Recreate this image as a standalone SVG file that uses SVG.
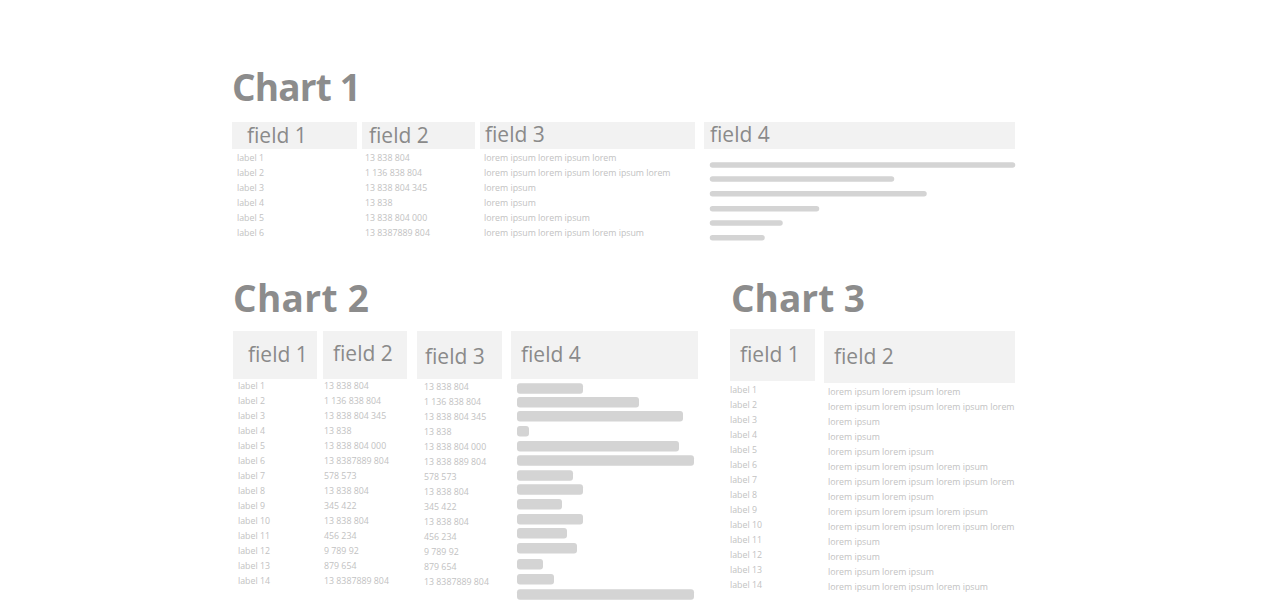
<svg xmlns="http://www.w3.org/2000/svg" width="1269" height="612" viewBox="0 0 1269 612">
<style>
.title{font-family:"Open Sans","Liberation Sans",sans-serif;font-weight:700;font-size:37px;fill:#8c8c8c}
.hdr{fill:#f2f2f2}
.ht{font-family:"Open Sans","Liberation Sans",sans-serif;font-size:21px;fill:#8a8a8a}
.rt{font-family:"Open Sans","Liberation Sans",sans-serif;font-size:8.8px;fill:#c2c2c2}
.ln{stroke:#d4d4d4;stroke-width:5.5;stroke-linecap:round}
.bar{fill:#d4d4d4}
</style>
<rect width="1269" height="612" fill="#ffffff"/>

<g id="chart1">
<text class="title" x="232" y="101" textLength="129">Chart 1</text>
<g id="c1-field1">
<rect class="hdr" x="232" y="122" width="125" height="27"/>
<text class="ht" x="247" y="143">field 1</text>
<text class="rt" x="237" y="161">label 1</text>
<text class="rt" x="237" y="176">label 2</text>
<text class="rt" x="237" y="191">label 3</text>
<text class="rt" x="237" y="206">label 4</text>
<text class="rt" x="237" y="221">label 5</text>
<text class="rt" x="237" y="236">label 6</text>
</g>
<g id="c1-field2">
<rect class="hdr" x="362" y="122" width="113" height="27"/>
<text class="ht" x="369" y="143">field 2</text>
<text class="rt" x="365" y="161">13 838 804</text>
<text class="rt" x="365" y="176">1 136 838 804</text>
<text class="rt" x="365" y="191">13 838 804 345</text>
<text class="rt" x="365" y="206">13 838</text>
<text class="rt" x="365" y="221">13 838 804 000</text>
<text class="rt" x="365" y="236">13 8387889 804</text>
</g>
<g id="c1-field3">
<rect class="hdr" x="480" y="122" width="215" height="27"/>
<text class="ht" x="485" y="142">field 3</text>
<text class="rt" x="484" y="161">lorem ipsum lorem ipsum lorem</text>
<text class="rt" x="484" y="176">lorem ipsum lorem ipsum lorem ipsum lorem</text>
<text class="rt" x="484" y="191">lorem ipsum</text>
<text class="rt" x="484" y="206">lorem ipsum</text>
<text class="rt" x="484" y="221">lorem ipsum lorem ipsum</text>
<text class="rt" x="484" y="236">lorem ipsum lorem ipsum lorem ipsum</text>
</g>
<g id="c1-field4">
<rect class="hdr" x="704" y="122" width="311" height="27"/>
<text class="ht" x="710" y="142">field 4</text>
<line class="ln" x1="712.5" y1="165" x2="1012.5" y2="165"/>
<line class="ln" x1="712.5" y1="179" x2="891.5" y2="179"/>
<line class="ln" x1="712.5" y1="193.7" x2="924" y2="193.7"/>
<line class="ln" x1="712.5" y1="208.7" x2="816.5" y2="208.7"/>
<line class="ln" x1="712.5" y1="223" x2="780" y2="223"/>
<line class="ln" x1="712.5" y1="237.7" x2="762" y2="237.7"/>
</g>
</g>

<g id="chart2">
<text class="title" x="233" y="312" textLength="136">Chart 2</text>
<g id="c2-field1">
<rect class="hdr" x="233" y="331" width="84" height="48"/>
<text class="ht" x="248" y="362">field 1</text>
<text class="rt" x="238" y="388.5">label 1</text>
<text class="rt" x="238" y="403.5">label 2</text>
<text class="rt" x="238" y="418.5">label 3</text>
<text class="rt" x="238" y="433.5">label 4</text>
<text class="rt" x="238" y="448.5">label 5</text>
<text class="rt" x="238" y="463.5">label 6</text>
<text class="rt" x="238" y="478.5">label 7</text>
<text class="rt" x="238" y="493.5">label 8</text>
<text class="rt" x="238" y="508.5">label 9</text>
<text class="rt" x="238" y="523.5">label 10</text>
<text class="rt" x="238" y="538.5">label 11</text>
<text class="rt" x="238" y="553.5">label 12</text>
<text class="rt" x="238" y="568.5">label 13</text>
<text class="rt" x="238" y="583.5">label 14</text>
</g>
<g id="c2-field2">
<rect class="hdr" x="323" y="331" width="84" height="48"/>
<text class="ht" x="333" y="361">field 2</text>
<text class="rt" x="324" y="388.5">13 838 804</text>
<text class="rt" x="324" y="403.5">1 136 838 804</text>
<text class="rt" x="324" y="418.5">13 838 804 345</text>
<text class="rt" x="324" y="433.5">13 838</text>
<text class="rt" x="324" y="448.5">13 838 804 000</text>
<text class="rt" x="324" y="463.5">13 8387889 804</text>
<text class="rt" x="324" y="478.5">578 573</text>
<text class="rt" x="324" y="493.5">13 838 804</text>
<text class="rt" x="324" y="508.5">345 422</text>
<text class="rt" x="324" y="523.5">13 838 804</text>
<text class="rt" x="324" y="538.5">456 234</text>
<text class="rt" x="324" y="553.5">9 789 92</text>
<text class="rt" x="324" y="568.5">879 654</text>
<text class="rt" x="324" y="583.5">13 8387889 804</text>
</g>
<g id="c2-field3">
<rect class="hdr" x="417" y="331" width="85" height="48"/>
<text class="ht" x="425" y="364">field 3</text>
<text class="rt" x="424" y="389.5">13 838 804</text>
<text class="rt" x="424" y="404.5">1 136 838 804</text>
<text class="rt" x="424" y="419.5">13 838 804 345</text>
<text class="rt" x="424" y="434.5">13 838</text>
<text class="rt" x="424" y="449.5">13 838 804 000</text>
<text class="rt" x="424" y="464.5">13 838 889 804</text>
<text class="rt" x="424" y="479.5">578 573</text>
<text class="rt" x="424" y="494.5">13 838 804</text>
<text class="rt" x="424" y="509.5">345 422</text>
<text class="rt" x="424" y="524.5">13 838 804</text>
<text class="rt" x="424" y="539.5">456 234</text>
<text class="rt" x="424" y="554.5">9 789 92</text>
<text class="rt" x="424" y="569.5">879 654</text>
<text class="rt" x="424" y="584.5">13 8387889 804</text>
</g>
<g id="c2-field4">
<rect class="hdr" x="511" y="331" width="187" height="48"/>
<text class="ht" x="521" y="362">field 4</text>
<rect class="bar" x="517" y="383.3" width="66" height="10.5" rx="3"/>
<rect class="bar" x="517" y="397" width="122" height="10.5" rx="3"/>
<rect class="bar" x="517" y="411" width="166" height="10.5" rx="3"/>
<rect class="bar" x="517" y="426" width="12" height="10.5" rx="3"/>
<rect class="bar" x="517" y="441" width="162" height="10.5" rx="3"/>
<rect class="bar" x="517" y="455.3" width="177" height="10.5" rx="3"/>
<rect class="bar" x="517" y="470.3" width="56" height="10.5" rx="3"/>
<rect class="bar" x="517" y="484.3" width="66" height="10.5" rx="3"/>
<rect class="bar" x="517" y="499" width="45" height="10.5" rx="3"/>
<rect class="bar" x="517" y="514" width="66" height="10.5" rx="3"/>
<rect class="bar" x="517" y="528" width="50" height="10.5" rx="3"/>
<rect class="bar" x="517" y="543" width="60" height="10.5" rx="3"/>
<rect class="bar" x="517" y="559" width="26" height="10.5" rx="3"/>
<rect class="bar" x="517" y="574" width="37" height="10.5" rx="3"/>
<rect class="bar" x="517" y="589.3" width="177" height="10.5" rx="3"/>
</g>
</g>

<g id="chart3">
<text class="title" x="731" y="312" textLength="134">Chart 3</text>
<g id="c3-field1">
<rect class="hdr" x="730" y="329" width="85" height="52"/>
<text class="ht" x="740" y="362">field 1</text>
<text class="rt" x="730" y="392.7">label 1</text>
<text class="rt" x="730" y="407.7">label 2</text>
<text class="rt" x="730" y="422.7">label 3</text>
<text class="rt" x="730" y="437.7">label 4</text>
<text class="rt" x="730" y="452.7">label 5</text>
<text class="rt" x="730" y="467.7">label 6</text>
<text class="rt" x="730" y="482.7">label 7</text>
<text class="rt" x="730" y="497.7">label 8</text>
<text class="rt" x="730" y="512.7">label 9</text>
<text class="rt" x="730" y="527.7">label 10</text>
<text class="rt" x="730" y="542.7">label 11</text>
<text class="rt" x="730" y="557.7">label 12</text>
<text class="rt" x="730" y="572.7">label 13</text>
<text class="rt" x="730" y="587.7">label 14</text>
</g>
<g id="c3-field2">
<rect class="hdr" x="824" y="331" width="191" height="52"/>
<text class="ht" x="834" y="364">field 2</text>
<text class="rt" x="828" y="394.7">lorem ipsum lorem ipsum lorem</text>
<text class="rt" x="828" y="409.7">lorem ipsum lorem ipsum lorem ipsum lorem</text>
<text class="rt" x="828" y="424.7">lorem ipsum</text>
<text class="rt" x="828" y="439.7">lorem ipsum</text>
<text class="rt" x="828" y="454.7">lorem ipsum lorem ipsum</text>
<text class="rt" x="828" y="469.7">lorem ipsum lorem ipsum lorem ipsum</text>
<text class="rt" x="828" y="484.7">lorem ipsum lorem ipsum lorem ipsum lorem</text>
<text class="rt" x="828" y="499.7">lorem ipsum lorem ipsum</text>
<text class="rt" x="828" y="514.7">lorem ipsum lorem ipsum lorem ipsum</text>
<text class="rt" x="828" y="529.7">lorem ipsum lorem ipsum lorem ipsum lorem</text>
<text class="rt" x="828" y="544.7">lorem ipsum</text>
<text class="rt" x="828" y="559.7">lorem ipsum</text>
<text class="rt" x="828" y="574.7">lorem ipsum lorem ipsum</text>
<text class="rt" x="828" y="589.7">lorem ipsum lorem ipsum lorem ipsum</text>
</g>
</g>
<g id="connectors"/>
</svg>
